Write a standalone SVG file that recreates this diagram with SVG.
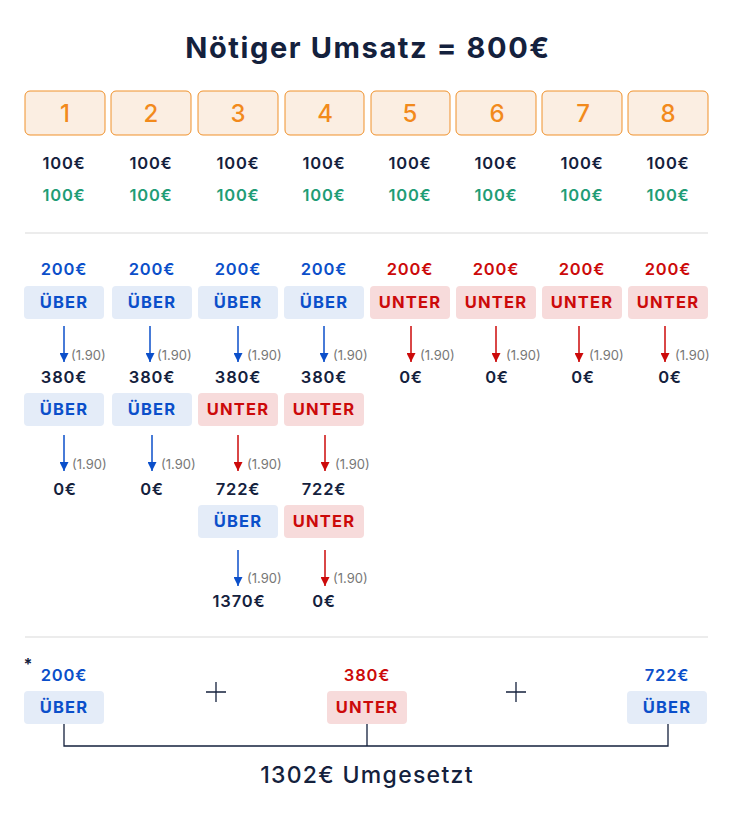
<svg xmlns="http://www.w3.org/2000/svg" width="735" height="822" viewBox="0 0 735 822">
<defs>
<style>
text{font-family:Inter,"Open Sans","Liberation Sans",sans-serif;text-anchor:middle}
.title{font-size:29px;font-weight:700;fill:#14213d;letter-spacing:1.6px}
.num{font-size:24px;font-weight:500;fill:#f28a1c}
.nbox{fill:#fbeee2;stroke:#f0912a;stroke-width:1}
.v{font-size:16.5px;font-weight:600;fill:#14213d;letter-spacing:0.8px}
.g{font-size:16.5px;font-weight:600;fill:#1f9d76;letter-spacing:0.8px}
.b{font-size:16.5px;font-weight:600;fill:#0b4fca;letter-spacing:0.8px}
.r{font-size:16.5px;font-weight:600;fill:#cc0a0a;letter-spacing:0.8px}
.ub{fill:#e4ecf8}
.ur{fill:#f7dbdb}
.tb{font-size:16.5px;font-weight:700;fill:#0b4fca;letter-spacing:1.2px}
.tr{font-size:16.5px;font-weight:700;fill:#cc0a0a;letter-spacing:1.2px}
.lab{font-size:13px;fill:#777;text-anchor:start}
.ab{stroke:#0b4fca;stroke-width:1.5;fill:none}
.ar{stroke:#cc0a0a;stroke-width:1.5;fill:none}
.sep{stroke:#e6e6e6;stroke-width:1.5}
.dk{stroke:#14213d;stroke-width:1.3;fill:none}
.sum{font-size:23px;font-weight:500;fill:#14213d;letter-spacing:1.3px}
</style>
<marker id="mb" viewBox="0 0 10 10" refX="10" refY="5" markerWidth="9" markerHeight="9" markerUnits="userSpaceOnUse" orient="auto"><path d="M0,0 L10,5 L0,10 z" fill="#0b4fca"/></marker>
<marker id="mr" viewBox="0 0 10 10" refX="10" refY="5" markerWidth="9" markerHeight="9" markerUnits="userSpaceOnUse" orient="auto"><path d="M0,0 L10,5 L0,10 z" fill="#cc0a0a"/></marker>
</defs>
<rect width="735" height="822" fill="#ffffff"/>
<text id="title" class="title" x="368" y="58">Nötiger Umsatz = 800€</text>

<g id="col1"><rect class="nbox" x="25" y="91" width="80" height="44" rx="5"/><text class="num" x="65" y="122">1</text><text class="v" x="64" y="169">100€</text><text class="g" x="64" y="201">100€</text></g>
<g id="col2"><rect class="nbox" x="111" y="91" width="80" height="44" rx="5"/><text class="num" x="151" y="122">2</text><text class="v" x="151" y="169">100€</text><text class="g" x="151" y="201">100€</text></g>
<g id="col3"><rect class="nbox" x="198" y="91" width="80" height="44" rx="5"/><text class="num" x="238" y="122">3</text><text class="v" x="238" y="169">100€</text><text class="g" x="238" y="201">100€</text></g>
<g id="col4"><rect class="nbox" x="285" y="91" width="79" height="44" rx="5"/><text class="num" x="325" y="122">4</text><text class="v" x="324" y="169">100€</text><text class="g" x="324" y="201">100€</text></g>
<g id="col5"><rect class="nbox" x="371" y="91" width="79" height="44" rx="5"/><text class="num" x="410" y="122">5</text><text class="v" x="410" y="169">100€</text><text class="g" x="410" y="201">100€</text></g>
<g id="col6"><rect class="nbox" x="456" y="91" width="80" height="44" rx="5"/><text class="num" x="497" y="122">6</text><text class="v" x="496" y="169">100€</text><text class="g" x="496" y="201">100€</text></g>
<g id="col7"><rect class="nbox" x="542" y="91" width="80" height="44" rx="5"/><text class="num" x="583" y="122">7</text><text class="v" x="582" y="169">100€</text><text class="g" x="582" y="201">100€</text></g>
<g id="col8"><rect class="nbox" x="628" y="91" width="80" height="44" rx="5"/><text class="num" x="668" y="122">8</text><text class="v" x="668" y="169">100€</text><text class="g" x="668" y="201">100€</text></g>

<line class="sep" x1="25" y1="233" x2="708" y2="233"/>

<!-- row 1 -->
<g id="r1c1"><text class="b" x="64" y="275">200€</text><rect class="ub" x="24" y="286" width="80" height="33" rx="4"/><text class="tb" x="64" y="308">ÜBER</text></g>
<g id="r1c2"><text class="b" x="152" y="275">200€</text><rect class="ub" x="112" y="286" width="80" height="33" rx="4"/><text class="tb" x="152" y="308">ÜBER</text></g>
<g id="r1c3"><text class="b" x="238" y="275">200€</text><rect class="ub" x="198" y="286" width="80" height="33" rx="4"/><text class="tb" x="238" y="308">ÜBER</text></g>
<g id="r1c4"><text class="b" x="324" y="275">200€</text><rect class="ub" x="284" y="286" width="80" height="33" rx="4"/><text class="tb" x="324" y="308">ÜBER</text></g>
<g id="r1c5"><text class="r" x="410" y="275">200€</text><rect class="ur" x="370" y="286" width="80" height="33" rx="4"/><text class="tr" x="410" y="308">UNTER</text></g>
<g id="r1c6"><text class="r" x="496" y="275">200€</text><rect class="ur" x="456" y="286" width="80" height="33" rx="4"/><text class="tr" x="496" y="308">UNTER</text></g>
<g id="r1c7"><text class="r" x="582" y="275">200€</text><rect class="ur" x="542" y="286" width="80" height="33" rx="4"/><text class="tr" x="582" y="308">UNTER</text></g>
<g id="r1c8"><text class="r" x="668" y="275">200€</text><rect class="ur" x="628" y="286" width="80" height="33" rx="4"/><text class="tr" x="668" y="308">UNTER</text></g>

<!-- row 2 -->
<g id="r2c1"><text class="v" x="64" y="383">380€</text><rect class="ub" x="24" y="393" width="80" height="33" rx="4"/><text class="tb" x="64" y="415">ÜBER</text></g>
<g id="r2c2"><text class="v" x="152" y="383">380€</text><rect class="ub" x="112" y="393" width="80" height="33" rx="4"/><text class="tb" x="152" y="415">ÜBER</text></g>
<g id="r2c3"><text class="v" x="238" y="383">380€</text><rect class="ur" x="198" y="393" width="80" height="33" rx="4"/><text class="tr" x="238" y="415">UNTER</text></g>
<g id="r2c4"><text class="v" x="324" y="383">380€</text><rect class="ur" x="284" y="393" width="80" height="33" rx="4"/><text class="tr" x="324" y="415">UNTER</text></g>
<g id="r2c5"><text class="v" x="411" y="383">0€</text></g>
<g id="r2c6"><text class="v" x="497" y="383">0€</text></g>
<g id="r2c7"><text class="v" x="583" y="383">0€</text></g>
<g id="r2c8"><text class="v" x="670" y="383">0€</text></g>

<!-- row 3 -->
<g id="r3c1"><text class="v" x="65" y="495">0€</text></g>
<g id="r3c2"><text class="v" x="152" y="495">0€</text></g>
<g id="r3c3"><text class="v" x="238" y="495">722€</text><rect class="ub" x="198" y="505" width="80" height="33" rx="4"/><text class="tb" x="238" y="527">ÜBER</text></g>
<g id="r3c4"><text class="v" x="324" y="495">722€</text><rect class="ur" x="284" y="505" width="80" height="33" rx="4"/><text class="tr" x="324" y="527">UNTER</text></g>

<!-- row 4 -->
<g id="r4c3"><text class="v" x="239" y="607">1370€</text></g>
<g id="r4c4"><text class="v" x="324" y="607">0€</text></g>

<g id="connectors">
<line class="ab" x1="64" y1="326" x2="64" y2="362" marker-end="url(#mb)"/>
<line class="ab" x1="150" y1="326" x2="150" y2="362" marker-end="url(#mb)"/>
<line class="ab" x1="238" y1="326" x2="238" y2="362" marker-end="url(#mb)"/>
<line class="ab" x1="324" y1="326" x2="324" y2="362" marker-end="url(#mb)"/>
<line class="ar" x1="411" y1="326" x2="411" y2="362" marker-end="url(#mr)"/>
<line class="ar" x1="496" y1="326" x2="496" y2="362" marker-end="url(#mr)"/>
<line class="ar" x1="579" y1="326" x2="579" y2="362" marker-end="url(#mr)"/>
<line class="ar" x1="665" y1="326" x2="665" y2="362" marker-end="url(#mr)"/>
<line class="ab" x1="64" y1="435" x2="64" y2="471" marker-end="url(#mb)"/>
<line class="ab" x1="152" y1="435" x2="152" y2="471" marker-end="url(#mb)"/>
<line class="ar" x1="238" y1="435" x2="238" y2="471" marker-end="url(#mr)"/>
<line class="ar" x1="325" y1="435" x2="325" y2="471" marker-end="url(#mr)"/>
<line class="ab" x1="238" y1="550" x2="238" y2="586" marker-end="url(#mb)"/>
<line class="ar" x1="325" y1="550" x2="325" y2="586" marker-end="url(#mr)"/>
<text class="lab" x="71" y="360">(1.90)</text>
<text class="lab" x="157" y="360">(1.90)</text>
<text class="lab" x="247" y="360">(1.90)</text>
<text class="lab" x="333" y="360">(1.90)</text>
<text class="lab" x="420" y="360">(1.90)</text>
<text class="lab" x="506" y="360">(1.90)</text>
<text class="lab" x="589" y="360">(1.90)</text>
<text class="lab" x="675" y="360">(1.90)</text>
<text class="lab" x="72" y="469">(1.90)</text>
<text class="lab" x="161" y="469">(1.90)</text>
<text class="lab" x="247" y="469">(1.90)</text>
<text class="lab" x="335" y="469">(1.90)</text>
<text class="lab" x="247" y="583">(1.90)</text>
<text class="lab" x="333" y="583">(1.90)</text>
</g>

<line class="sep" x1="25" y1="637" x2="708" y2="637"/>

<text x="28" y="670" style="font-size:16px;font-weight:700;fill:#14213d">*</text>
<g id="s1"><text class="b" x="64" y="681">200€</text><rect class="ub" x="24" y="691" width="80" height="33" rx="4"/><text class="tb" x="64" y="713">ÜBER</text></g>
<g id="s2"><text class="r" x="367" y="681">380€</text><rect class="ur" x="327" y="691" width="80" height="33" rx="4"/><text class="tr" x="367" y="713">UNTER</text></g>
<g id="s3"><text class="b" x="667" y="681">722€</text><rect class="ub" x="627" y="691" width="80" height="33" rx="4"/><text class="tb" x="667" y="713">ÜBER</text></g>
<g id="plus1"><path class="dk" d="M206,692 H226 M216,682 V702"/></g>
<g id="plus2"><path class="dk" d="M506,692 H526 M516,682 V702"/></g>
<g id="bracket"><path class="dk" d="M64,724 V746 H668 V724 M367,724 V746"/></g>
<text id="total" class="sum" x="367" y="783">1302€ Umgesetzt</text>
</svg>
